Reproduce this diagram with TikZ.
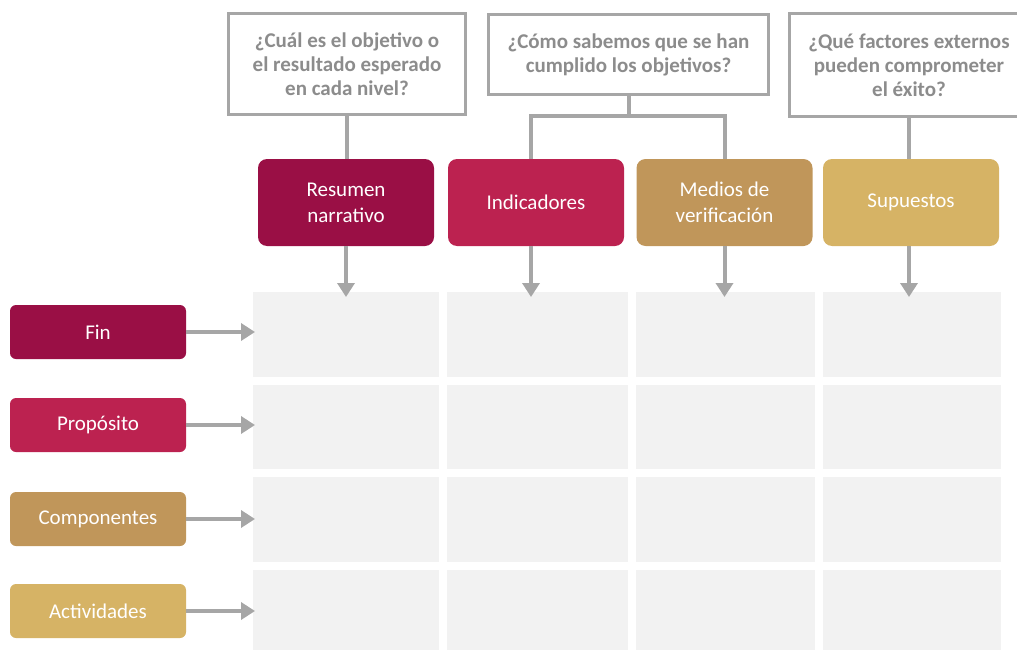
\documentclass[tikz,border=0pt]{standalone}
\usepackage{fontspec}
\setmainfont{Carlito}
\usepackage{tikz}
\usetikzlibrary{arrows.meta}
\usetikzlibrary{positioning}

\definecolor{vino}{HTML}{9A0F45}
\definecolor{rosa}{HTML}{BC2250}
\definecolor{ocre}{HTML}{C0965A}
\definecolor{oro}{HTML}{D6B365}
\definecolor{linegray}{HTML}{A6A6A6}
\definecolor{textgray}{HTML}{8C8C8C}
\definecolor{cellgray}{HTML}{F2F2F2}

\begin{document}
\begin{tikzpicture}
    [
    x=1pt, y=-1pt,
    question/.style={draw=linegray, line width=3.5pt, fill=white, text=textgray,
      font=\bfseries\fontsize{21}{24}\selectfont, align=center, inner sep=0pt},
    header/.style={rounded corners=9pt, text=white, align=center, inner sep=0pt,
      font=\fontsize{21}{26}\selectfont, minimum width=176pt, minimum height=87pt},
    level/.style={rounded corners=6pt, text=white, inner sep=0pt,
      font=\fontsize{21}{24}\selectfont, minimum width=176pt, minimum height=54pt},
    cell/.style={fill=cellgray, inner sep=0pt, anchor=north west},
    link/.style={draw=linegray, line width=4pt},
    arrow/.style={link, -{Triangle[width=17pt,length=14pt]}},
    ]
    \useasboundingbox (0,0) rectangle (1017,650);

    % grid
    \foreach \c/\x/\w in {1/253/186, 2/447/181, 3/636/179, 4/823/178}
      \foreach \r/\y/\h in {1/292/85, 2/385/84, 3/477/85, 4/570/85}
        \node (cell-\r-\c) at (\x,\y) [cell, minimum width=\w pt, minimum height=\h pt] {};

    % questions
    \node (q1) at (347,64) [question, minimum width=237pt, minimum height=101pt]
      {¿Cuál es el objetivo o\\el resultado esperado\\en cada nivel?};
    \node (q2) at (628.5,54.5) [question, minimum width=280pt, minimum height=80pt]
      {¿Cómo sabemos que se han\\cumplido los objetivos?};
    \node (q3) at (909,65) [question, minimum width=239pt, minimum height=103pt]
      {¿Qué factores externos\\pueden comprometer\\el éxito?};

    % columns
    \node (res) at (346,202.5) [header, fill=vino] {Resumen\\narrativo};
    \node (ind) at (536,202.5) [header, fill=rosa] {Indicadores};
    \node (med) at (724.5,202.5) [header, fill=ocre] {Medios de\\verificación};
    \node (sup) at (911,202.5) [header, fill=oro] {Supuestos};

    % levels
    \node (fin) at (98,332) [level, fill=vino] {Fin};
    \node (pro) at (98,425) [level, fill=rosa] {Propósito};
    \node (com) at (98,519) [level, fill=ocre] {Componentes};
    \node (act) at (98,611) [level, fill=oro] {Actividades};

    \draw [link] (q1.south) -- (q1.south |- res.north);
    \draw [link] (q2.south) -- ++(0,20) coordinate (split);
    \draw [link] ([xshift=-5pt]ind.north) |- (split) -| (med.north);
    \draw [link] (q3.south) -- (q3.south |- sup.north);

    \draw [arrow] (res.south) -- ([yshift=-5pt]res.south |- cell-1-1.north);
    \draw [arrow] ([xshift=-5pt]ind.south) -- ([xshift=-5pt,yshift=-5pt]ind.south |- cell-1-2.north);
    \draw [arrow] (med.south) -- ([yshift=-5pt]med.south |- cell-1-3.north);
    \draw [arrow] ([xshift=-2pt]sup.south) -- ([xshift=-2pt,yshift=-5pt]sup.south |- cell-1-4.north);

    \draw [arrow] (fin.east) -- ([xshift=2pt]fin.east -| cell-1-1.west);
    \draw [arrow] (pro.east) -- ([xshift=2pt]pro.east -| cell-2-1.west);
    \draw [arrow] (com.east) -- ([xshift=2pt]com.east -| cell-3-1.west);
    \draw [arrow] (act.east) -- ([xshift=2pt]act.east -| cell-4-1.west);
  \end{tikzpicture}
\end{document}
